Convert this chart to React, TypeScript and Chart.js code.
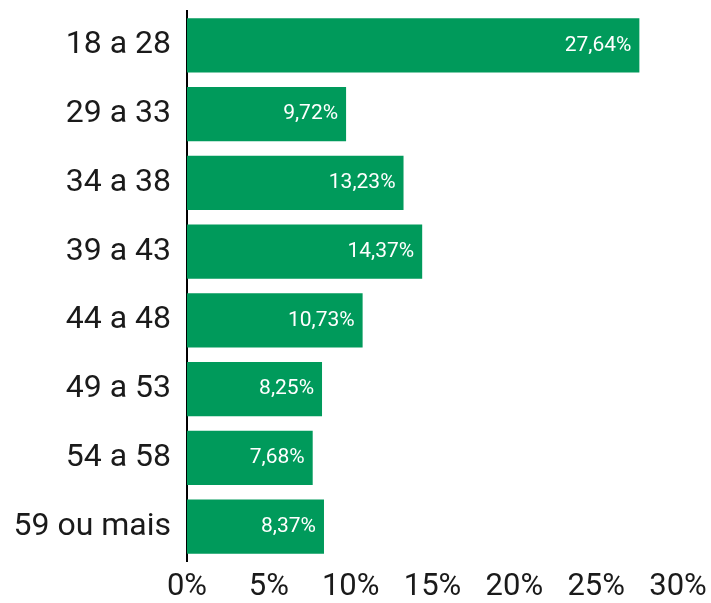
import React, { useEffect, useRef } from "react";
import { Chart, registerables } from "chart.js";

Chart.register(...registerables);

const categories = ["18 a 28", "29 a 33", "34 a 38", "39 a 43", "44 a 48", "49 a 53", "54 a 58", "59 ou mais"];
const values = [27.64, 9.72, 13.23, 14.37, 10.73, 8.25, 7.68, 8.37];
const xTicks = [0, 5, 10, 15, 20, 25, 30];

const fmt = (v: number) => v.toFixed(2).replace(".", ",") + "%";

const labelPlugin = {
  id: "barLabels",
  afterDatasetsDraw(chart: any) {
    const ctx = chart.ctx;
    const meta = chart.getDatasetMeta(0);
    ctx.save();
    ctx.font = "21px Roboto";
    ctx.fillStyle = "#ffffff";
    ctx.textAlign = "right";
    ctx.textBaseline = "middle";
    meta.data.forEach((bar: any, i: number) => {
      ctx.fillText(fmt(values[i]), bar.x - 8, bar.y);
    });
    ctx.restore();
  },
};

export default function App() {
  const ref = useRef<HTMLCanvasElement>(null);
  useEffect(() => {
    const chart = new Chart(ref.current!, {
      type: "bar",
      data: {
        labels: categories,
        datasets: [
          {
            data: values,
            backgroundColor: "#009A5B",
            barPercentage: 0.79,
            categoryPercentage: 1,
          },
        ],
      },
      options: {
        indexAxis: "y",
        animation: false,
        responsive: true,
        maintainAspectRatio: false,
        layout: { padding: { top: 11, right: 33, left: 0, bottom: 0 } },
        plugins: { legend: { display: false }, tooltip: { enabled: false } },
        scales: {
          x: {
            min: 0,
            max: 30,
            afterBuildTicks: (scale: any) => {
              scale.ticks = xTicks.map((v) => ({ value: v }));
            },
            grid: { display: false, drawTicks: false },
            border: { display: false },
            ticks: {
              callback: (v: any) => v + "%",
              font: { family: "Roboto", size: 31 },
              color: "#1a1a1a",
              padding: 8,
              maxRotation: 0,
              autoSkip: false,
            },
            afterFit: (scale: any) => {
              scale.height = 42;
              scale.paddingLeft = 0;
              scale.paddingRight = 0;
            },
          },
          y: {
            grid: { display: false, drawTicks: false },
            border: { display: true, color: "#000000", width: 2 },
            ticks: {
              font: { family: "Roboto", size: 32 },
              color: "#1a1a1a",
              padding: 16,
              autoSkip: false,
            },
            afterFit: (scale: any) => {
              scale.width = 187;
              scale.paddingTop = 0;
              scale.paddingBottom = 0;
            },
          },
        },
      },
      plugins: [labelPlugin],
    });
    return () => chart.destroy();
  }, []);
  return (
    <div style={{ position: "absolute", left: 0, top: 0, width: 711, height: 603 }}>
      <canvas ref={ref} />
    </div>
  );
}
